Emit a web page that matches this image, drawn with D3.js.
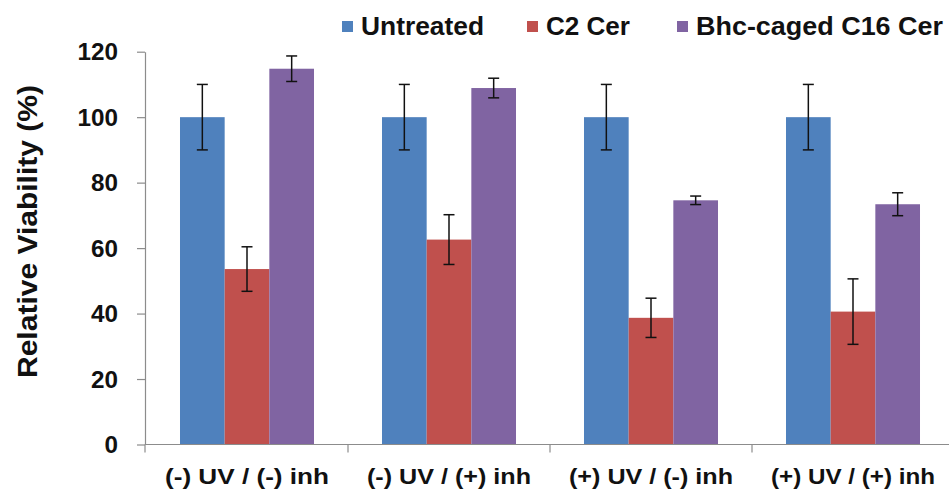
<!DOCTYPE html>
<html>
<head>
<meta charset="utf-8">
<script src="https://cdn.jsdelivr.net/npm/d3@7"></script>
<style>
  html, body { margin: 0; padding: 0; background: #fff; }
  svg { display: block; font-family: "Liberation Sans", Arial, sans-serif; }
</style>
</head>
<body>
<svg id="chart" width="949" height="489"></svg>
<script>
// Treatment conditions along the x axis
const categories = ["(-) UV / (-) inh", "(-) UV / (+) inh", "(+) UV / (-) inh", "(+) UV / (+) inh"];
// Series names and colours
const seriesNames = ["Untreated", "C2 Cer", "Bhc-caged C16 Cer"];
const seriesColors = ["#4F81BD", "#C0504D", "#8064A2"];
// Mean relative viability (%) per series, one value per condition
const untreated = [100, 100, 100, 100];
const c2Cer = [53.6, 62.6, 38.7, 40.6];
const bhcC16Cer = [114.8, 108.9, 74.6, 73.4];
// Error bar half-widths (±)
const untreatedErr = [10, 10, 10, 10];
const c2CerErr = [6.8, 7.6, 6.0, 10.0];
const bhcC16CerErr = [3.9, 3.0, 1.3, 3.5];
// Y axis ticks
const yTicks = [0, 20, 40, 60, 80, 100, 120];

const seriesValues = [untreated, c2Cer, bhcC16Cer];
const seriesErrors = [untreatedErr, c2CerErr, bhcC16CerErr];

const svg = d3.select("#chart");

const x0 = d3.scaleBand().domain(categories).range([146, 954]).paddingInner(0.3366).paddingOuter(0.1683);
const x1 = d3.scaleBand().domain(seriesNames).range([0, x0.bandwidth()]).padding(0);
const y = d3.scaleLinear().domain([0, 120]).range([444.5, 51.7]);

const axisColor = "#8c8c8c";

// Bars
const rows = [];
categories.forEach((c, i) => {
  seriesNames.forEach((s, j) => {
    rows.push({ cat: c, series: s, color: seriesColors[j], v: seriesValues[j][i], e: seriesErrors[j][i] });
  });
});

svg.append("g").selectAll("rect").data(rows).join("rect")
  .attr("x", d => x0(d.cat) + x1(d.series))
  .attr("y", d => y(d.v))
  .attr("width", x1.bandwidth())
  .attr("height", d => y(0) - y(d.v))
  .attr("fill", d => d.color);

// Y axis
const yAxis = svg.append("g")
  .attr("transform", `translate(${145},0)`)
  .call(d3.axisLeft(y).tickValues(yTicks).tickSize(8).tickPadding(19).tickSizeOuter(0));
yAxis.select(".domain").attr("stroke", axisColor).attr("stroke-width", 1.2);
yAxis.selectAll(".tick line").attr("stroke", axisColor).attr("stroke-width", 1.2);
yAxis.selectAll(".tick text")
  .attr("fill", "#111")
  .attr("dy", "0.36em")
  .style("font-size", "23px")
  .style("font-weight", "bold")
  .attr("textLength", d => String(d).length * 13.5)
  .attr("lengthAdjust", "spacingAndGlyphs");

// X axis line with category boundary ticks
const xAxisG = svg.append("g");
xAxisG.append("line")
  .attr("x1", 145).attr("x2", 954)
  .attr("y1", y(0)).attr("y2", y(0))
  .attr("stroke", axisColor).attr("stroke-width", 1.2);
const boundaries = categories.map(c => x0(c) - x0.step() * x0.paddingInner() / 2);
boundaries[0] = 145;
boundaries.push(x0(categories[categories.length - 1]) + x0.bandwidth() + x0.step() * x0.paddingInner() / 2);
xAxisG.selectAll("line.bt").data(boundaries).join("line")
  .attr("class", "bt")
  .attr("x1", d => d).attr("x2", d => d)
  .attr("y1", y(0)).attr("y2", y(0) + 8)
  .attr("stroke", axisColor).attr("stroke-width", 1.2);
xAxisG.selectAll("text").data(categories).join("text")
  .attr("x", d => x0(d) + x0.bandwidth() / 2)
  .attr("y", 483.5)
  .attr("text-anchor", "middle")
  .attr("fill", "#111")
  .style("font-size", "22px")
  .style("font-weight", "bold")
  .attr("textLength", 164)
  .attr("lengthAdjust", "spacingAndGlyphs")
  .text(d => d);

// Error bars
const capHalf = 5.5;
const eb = svg.append("g").attr("stroke", "#111").attr("stroke-width", 1.5).attr("fill", "none");
rows.forEach(d => {
  const cx = x0(d.cat) + x1(d.series) + x1.bandwidth() / 2;
  const yt = y(d.v + d.e), yb = y(d.v - d.e);
  eb.append("line").attr("x1", cx).attr("x2", cx).attr("y1", yt).attr("y2", yb);
  eb.append("line").attr("x1", cx - capHalf).attr("x2", cx + capHalf).attr("y1", yt).attr("y2", yt);
  eb.append("line").attr("x1", cx - capHalf).attr("x2", cx + capHalf).attr("y1", yb).attr("y2", yb);
});

// Y axis title
svg.append("text")
  .attr("transform", "translate(36.5,231.5) rotate(-90)")
  .attr("text-anchor", "middle")
  .attr("fill", "#111")
  .style("font-size", "28px")
  .style("font-weight", "bold")
  .attr("textLength", 293)
  .attr("lengthAdjust", "spacingAndGlyphs")
  .text("Relative Viability (%)");

// Legend
const legendX = [342, 527, 677];
const legendW = [123, 84, 247];
const lg = svg.append("g");
seriesNames.forEach((s, j) => {
  lg.append("rect")
    .attr("x", legendX[j]).attr("y", 21)
    .attr("width", 11).attr("height", 11)
    .attr("fill", seriesColors[j]);
  lg.append("text")
    .attr("x", legendX[j] + 19).attr("y", 34.5)
    .attr("fill", "#111")
    .style("font-size", "25px")
    .style("font-weight", "bold")
    .attr("textLength", legendW[j])
    .attr("lengthAdjust", "spacingAndGlyphs")
    .text(s);
});
</script>
</body>
</html>
